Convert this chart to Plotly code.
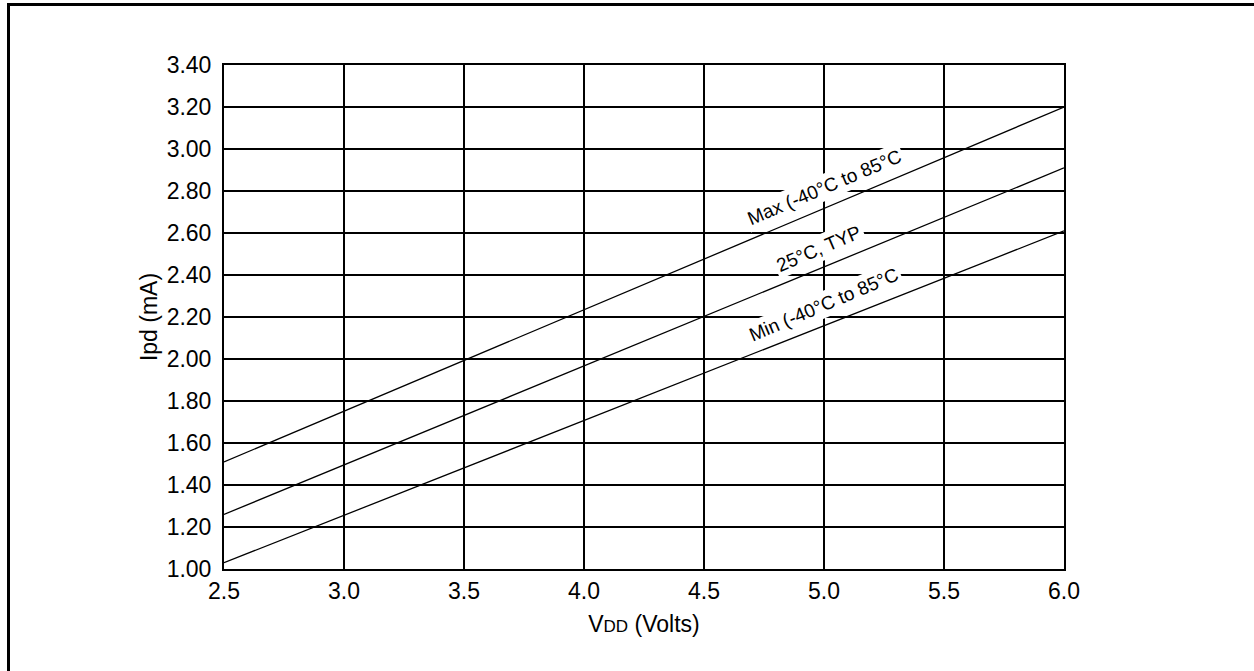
import plotly.graph_objects as go

vdd = [2.5, 6.0]
ipd_max = [1.51, 3.20]
ipd_typ = [1.26, 2.91]
ipd_min = [1.03, 2.61]

x_ticks = [2.5, 3.0, 3.5, 4.0, 4.5, 5.0, 5.5, 6.0]
y_ticks = [1.00, 1.20, 1.40, 1.60, 1.80, 2.00, 2.20, 2.40, 2.60, 2.80, 3.00, 3.20, 3.40]

labels = ["Max (-40°C to 85°C", "25°C, TYP", "Min (-40°C to 85°C"]
label_x = [5.0, 4.98, 5.0]
label_y = [2.815, 2.525, 2.258]

FONT = "Liberation Sans, Arial, Helvetica, sans-serif"
FS = 23

fig = go.Figure()
for ys in (ipd_max, ipd_typ, ipd_min):
    fig.add_trace(go.Scatter(x=vdd, y=ys, mode="lines",
                             line=dict(color="black", width=1.3),
                             showlegend=False, hoverinfo="skip"))

for t, lx, ly in zip(labels, label_x, label_y):
    fig.add_annotation(x=lx, y=ly, xref="x", yref="y", text=t, showarrow=False,
                       textangle=-23, bgcolor="white", borderpad=2,
                       font=dict(family=FONT, size=19, color="black"))

W, H = 1254, 671
L, R, T, B = 224, 190, 65, 102
pw, ph = W - L - R, H - T - B

def px2paper_x(p):
    return (p - L) / pw

def px2paper_y(p):
    return (H - B - p) / ph

# outer frame (extends past right and bottom edges)
fig.add_shape(type="path", xref="paper", yref="paper",
              path=f"M {px2paper_x(1300)},{px2paper_y(4.5)} L {px2paper_x(8.5)},{px2paper_y(4.5)} L {px2paper_x(8.5)},{px2paper_y(720)}",
              line=dict(color="black", width=3))

fig.update_layout(
    width=W, height=H, autosize=False,
    margin=dict(l=L, r=R, t=T, b=B, pad=0),
    paper_bgcolor="white", plot_bgcolor="white",
    font=dict(family=FONT, size=FS, color="black"),
    showlegend=False,
)
fig.update_xaxes(range=[2.5, 6.0], tickvals=x_ticks,
                 ticktext=[f"{v:.1f}" for v in x_ticks],
                 showgrid=True, gridcolor="black", gridwidth=2,
                 showline=True, linecolor="black", linewidth=2, mirror=True,
                 zeroline=False, ticks="", ticklen=0,
                 tickfont=dict(size=FS),
                 title=dict(text="V<span style='font-size:17px'>DD</span> (Volts)",
                            font=dict(size=FS), standoff=13))
fig.update_yaxes(range=[1.0, 3.4], tickvals=y_ticks,
                 ticktext=[f"{v:.2f}" for v in y_ticks],
                 showgrid=True, gridcolor="black", gridwidth=2,
                 showline=True, linecolor="black", linewidth=2, mirror=True,
                 zeroline=False, ticks="outside", ticklen=6, tickcolor="white",
                 tickfont=dict(size=FS),
                 title=dict(text="Ipd (mA)", font=dict(size=FS), standoff=3))

fig.write_html("out.html", config={"displayModeBar": False})
with open("out.html", "r", encoding="utf-8") as f:
    html = f.read()
html = html.replace("<body>", "<body style=\"margin:0;padding:0;overflow:hidden\">", 1)
html = html.replace("<head>", "<head><style>html,body{margin:0;padding:0;overflow:hidden}</style>", 1)
with open("out.html", "w", encoding="utf-8") as f:
    f.write(html)
